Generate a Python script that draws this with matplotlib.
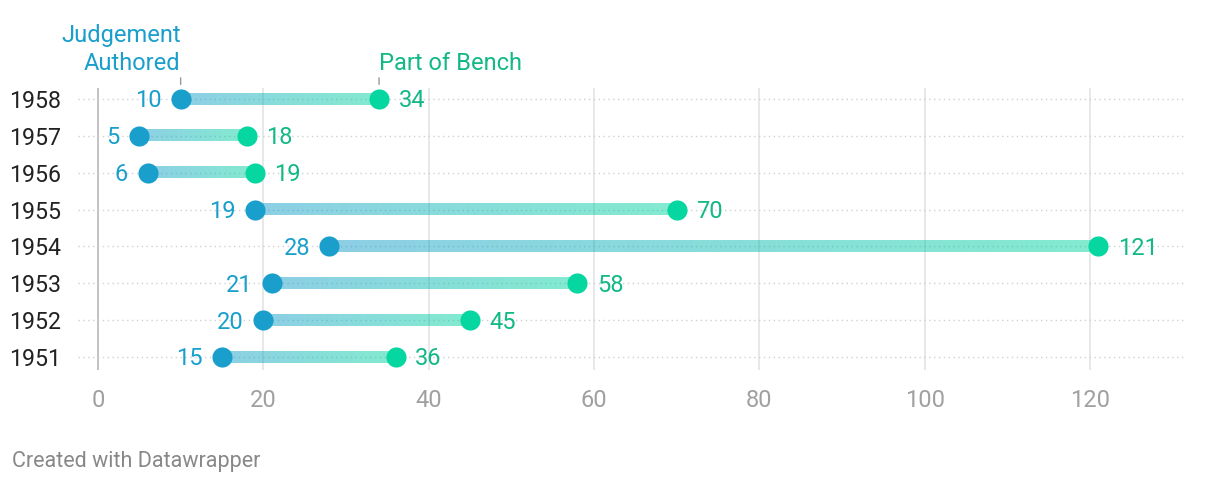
import numpy as np
import matplotlib
matplotlib.use("Agg")
import matplotlib.pyplot as plt
from matplotlib.colors import LinearSegmentedColormap

plt.rcParams['font.family'] = ['Roboto', 'DejaVu Sans']

years = ['1951', '1952', '1953', '1954', '1955', '1956', '1957', '1958']
authored = [15, 20, 21, 28, 19, 6, 5, 10]
bench = [36, 45, 58, 121, 70, 19, 18, 34]
x_ticks = [0, 20, 40, 60, 80, 100, 120]

BLUE = '#1a9fcc'
GREEN = '#06d6a0'
GREEN_TXT = '#12b886'
FS = 17

fig = plt.figure(figsize=(12.2, 4.86), dpi=100)
ax = fig.add_axes([0.0639, 0.2387, 0.9082, 0.5803])
ax.set_xlim(-2.42, 131.6)
ax.set_ylim(-0.35, 7.3)

# grid
for t in x_ticks:
    ax.axvline(t, color='#bdbdbd' if t == 0 else '#e2e2e2', lw=1.3 if t == 0 else 1.1, zorder=0)
for i in range(len(years)):
    ax.axhline(i, color='#d0d0d0', lw=1, ls=(0, (1, 2.5)), zorder=0)

cmap = LinearSegmentedColormap.from_list('bg', [BLUE, GREEN])
grad = np.linspace(0, 1, 256).reshape(1, -1)
h = 0.15
for i, (a, b) in enumerate(zip(authored, bench)):
    ax.imshow(grad, cmap=cmap, alpha=0.5, extent=[a, b, i - h, i + h],
              aspect='auto', zorder=1, interpolation='bilinear')
    ax.scatter([a], [i], s=210, color=BLUE, zorder=3, linewidths=0)
    ax.scatter([b], [i], s=210, color=GREEN, zorder=3, linewidths=0)
    ax.annotate(str(a), (a, i), xytext=(-14, -6), textcoords='offset points',
                ha='right', va='baseline', fontsize=FS, color=BLUE)
    ax.annotate(str(b), (b, i), xytext=(14, -6), textcoords='offset points',
                ha='left', va='baseline', fontsize=FS, color=GREEN_TXT)

ax.set_xticks(x_ticks)
ax.set_xticklabels([str(t) for t in x_ticks], fontsize=FS, color='#a0a0a0')
ax.set_yticks(range(len(years)))
ax.set_yticklabels(years, fontsize=16.7, color='#222222')
ax.tick_params(axis='both', length=0)
ax.tick_params(axis='x', pad=14)
ax.tick_params(axis='y', pad=12)
for s in ax.spines.values():
    s.set_visible(False)
ax.set_xlim(-2.42, 131.6)
ax.set_ylim(-0.35, 7.3)

# header labels
top = len(years) - 1
ax.annotate('Judgement\nAuthored', (authored[-1], top), xytext=(0, 21), textcoords='offset points',
            ha='right', va='baseline', fontsize=FS, color=BLUE, linespacing=1.28,
            annotation_clip=False)
ax.annotate('Part of Bench', (bench[-1], top), xytext=(0, 21), textcoords='offset points',
            ha='left', va='baseline', fontsize=FS, color=GREEN_TXT, annotation_clip=False)
for v in (authored[-1], bench[-1]):
    ax.annotate('', (v, top + 0.32), xytext=(v, top + 0.65),
                arrowprops=dict(arrowstyle='-', color='#999999', lw=1), annotation_clip=False)

fig.text(12 / 1220, 1 - 467 / 486, 'Created with Datawrapper', fontsize=15.5, color='#888888',
         ha='left', va='baseline')

fig.savefig('out.png', dpi=100)
